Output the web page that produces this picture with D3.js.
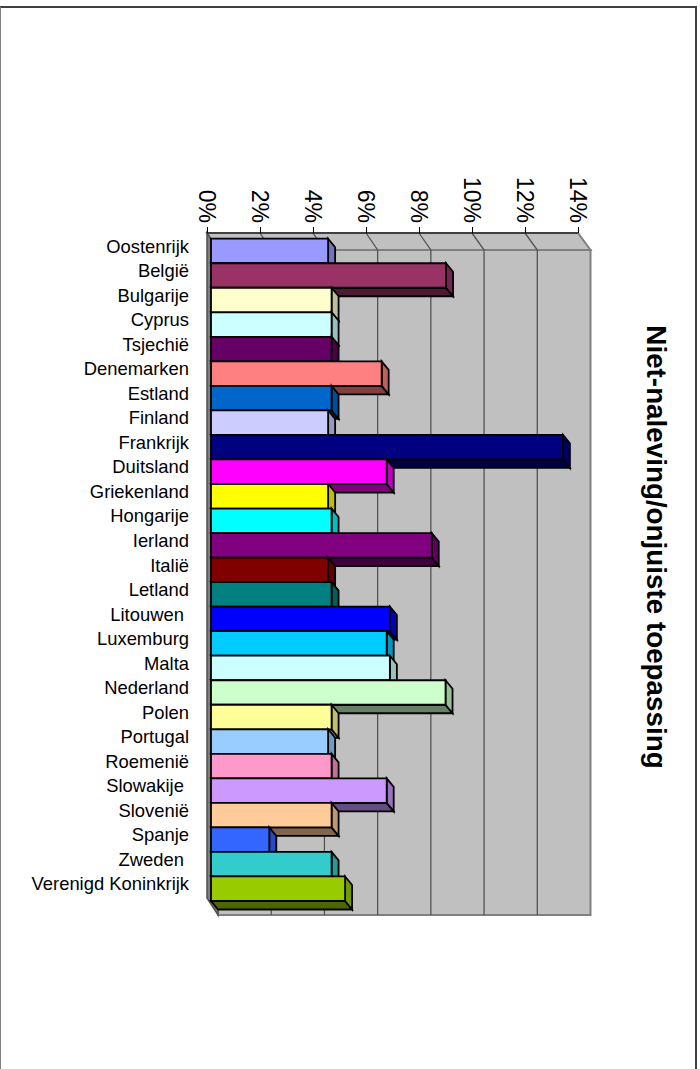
<!DOCTYPE html>
<html><head><meta charset="utf-8">
<script src="https://cdnjs.cloudflare.com/ajax/libs/d3/7.8.5/d3.min.js"></script>
<style>html,body{margin:0;padding:0;background:#fff}svg{display:block}text{font-family:"Liberation Sans",Arial,sans-serif;fill:#000}</style>
</head><body><svg id="c" width="700" height="1069"></svg>
<script>
const categories=["Oostenrijk","België","Bulgarije","Cyprus","Tsjechië","Denemarken","Estland","Finland","Frankrijk","Duitsland","Griekenland","Hongarije","Ierland","Italië","Letland","Litouwen ","Luxemburg","Malta","Nederland","Polen","Portugal","Roemenië","Slowakije ","Slovenië","Spanje","Zweden ","Verenigd Koninkrijk"];
const values=[4.42,8.87,4.55,4.55,4.55,6.44,4.55,4.42,13.28,6.63,4.42,4.55,8.33,4.42,4.55,6.75,6.63,6.75,8.85,4.55,4.42,4.55,6.63,4.55,2.2,4.55,5.06];
const colors=["#9999ff","#993366","#ffffcc","#ccffff","#660066","#ff8080","#0066cc","#ccccff","#000080","#ff00ff","#ffff00","#00ffff","#800080","#800000","#008080","#0000ff","#00ccff","#ccffff","#ccffcc","#ffff99","#99ccff","#ff99cc","#cc99ff","#ffcc99","#3366ff","#33cccc","#99cc00"];
const ticks=[0,2,4,6,8,10,12,14];
const title="Niet-naleving/onjuiste toepassing";

const svg=d3.select("#c");
const xFront=d3.scaleLinear().domain([0,14]).range([207,578]);
const xBack=d3.scaleLinear().domain([0,14]).range([218,590.5]);
const xBar=d3.scaleLinear().domain([0,14]).range([211,582]);
const y=d3.scaleBand().domain(categories).range([238.7,901]);
const top0=233,top1=250,bot0=898,bot1=915,dx=7,dy=8.5;
const shade=(c,k)=>{const r=d3.rgb(c);return d3.rgb(r.r*k,r.g*k,r.b*k).formatHex();};
const poly=(pts,fill,stroke,sw)=>svg.append("polygon").attr("points",pts.map(p=>p.join(",")).join(" ")).attr("fill",fill).attr("stroke",stroke).attr("stroke-width",sw).attr("stroke-linejoin","miter");
// page frame
svg.append("line").attr("x1",0).attr("x2",697).attr("y1",7).attr("y2",7).attr("stroke","#404040").attr("stroke-width",2);
svg.append("line").attr("x1",.5).attr("x2",.5).attr("y1",7).attr("y2",1069).attr("stroke","#808080").attr("stroke-width",1);
svg.append("line").attr("x1",696).attr("x2",696).attr("y1",7).attr("y2",1069).attr("stroke","#404040").attr("stroke-width",2);
// walls
poly([[xBack(0),top1],[xBack(14),top1],[xBack(14),bot1],[xBack(0),bot1]],"#c0c0c0","#808080",2);
poly([[xFront(0),top0],[xFront(14),top0],[xBack(14),top1],[xBack(0),top1]],"#c0c0c0","#808080",2);
poly([[xFront(0),top0],[xBack(0),top1],[xBack(0),bot1],[xFront(0),bot0]],"#808080","#505050",1.5);
// gridlines
ticks.slice(1,-1).forEach(t=>{
 svg.append("polyline").attr("points",`${xFront(t)},${top0} ${xBack(t)},${top1} ${xBack(t)},${bot1}`).attr("fill","none").attr("stroke","#555").attr("stroke-width",1.3);
});
// axis line + ticks
svg.append("line").attr("x1",xFront(0)).attr("x2",xFront(14)).attr("y1",top0).attr("y2",top0).attr("stroke","#000").attr("stroke-width",1.2);
ticks.forEach(t=>{
 svg.append("line").attr("x1",Math.round(xFront(t))+.5).attr("x2",Math.round(xFront(t))+.5).attr("y1",227).attr("y2",top0).attr("stroke","#000");
 svg.append("text").attr("transform",`translate(${xFront(t)},223) rotate(90)`).attr("text-anchor","end").attr("dy","0.35em").attr("font-size",23).text(t+"%");
});
// bars, top to bottom
categories.forEach((c,i)=>{
 const x0=xBar(0),x1=xBar(values[i]),yt=y(c),yb=yt+y.bandwidth();
 poly([[x0,yb],[x1,yb],[x1+dx,yb+dy],[x0+dx,yb+dy]],shade(colors[i],.5),"#000",1.8);
 poly([[x1,yt],[x1+dx,yt+dy],[x1+dx,yb+dy],[x1,yb]],shade(colors[i],.75),"#000",1.8);
 poly([[x0,yt],[x1,yt],[x1,yb],[x0,yb]],colors[i],"#000",1.8);
});
// category labels
categories.forEach(c=>{
 svg.append("text").attr("x",189).attr("y",y(c)+y.bandwidth()/2+1.7).attr("text-anchor","end").attr("font-size",18.4).attr("xml:space","preserve").style("white-space","pre").text(c);
});
// title
svg.append("text").attr("transform","translate(647,547) rotate(90)").attr("text-anchor","middle").attr("font-size",27.8).attr("font-weight","bold").text(title);
</script></body></html>
